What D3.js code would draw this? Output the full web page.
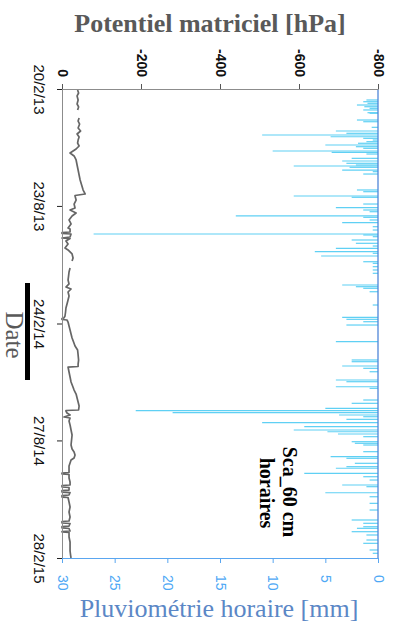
<!DOCTYPE html>
<html><head><meta charset="utf-8">
<script src="https://cdn.jsdelivr.net/npm/d3@7"></script>
<style>body{margin:0;background:#fff}svg{display:block}</style>
</head><body><svg id="c" width="402" height="631"></svg>
<script>
// ---- data ----
const startDate = new Date(2013, 1, 20);
const totalDays = 738;
const dateTickDays = [0, 184, 369, 553, 738];
const dateTickLabels = ["20/2/13", "23/8/13", "24/2/14", "27/8/14", "28/2/15"];
const hpaTicks = [0, -200, -400, -600, -800];
const rainTicks = [30, 25, 20, 15, 10, 5, 0];

// matric potential (days since 20/2/13, hPa); null = no data
const potDays = [1.6,6.3,11,17.3,23.6,28.3,33,33.5,45.6,50.4,55.1,61.4,66.1,70.8,75.5,80.3,85,89.7,94.4,97.6,100.7,105.4,111.7,119.6,127.5,135.3,143.2,151.1,159,165.2,167.6,168.4,174.7,181,187.3,190.4,195.1,199.8,206.1,212.4,218.7,220.3,225,225.8,227.4,228.2,232.9,234.5,235.3,239.2,243.9,250.2,253.3,259.6,265.9,270.7,271,281.7,288,294.3,300.6,306.8,311.6,314.7,319.4,325.7,332,338.3,344.6,350.9,357.2,360.3,361.1,362.7,363.5,366.7,373,379.2,385.5,391.8,398.1,404.4,410.7,418.6,426.5,432.8,436.7,437.5,445.3,453.2,461.1,467.4,473.7,480,486.2,492.5,498.8,505.1,505.9,506.7,509.8,513,516.1,517.7,522.4,528.7,536.6,544.5,552.3,560.2,566.5,571.2,575.9,580.6,583.8,588.5,593.2,599.5,603.5,604.3,605.8,606.6,612.1,618.4,623.1,623.9,626.3,627.1,631.1,631.8,634.2,635,638.9,639.7,642.1,642.8,649.9,657.8,665.6,673.5,679.8,680.6,682.9,683.7,687.7,688.5,690.8,691.6,695.5,696.3,697.1,697.9,705,712.8,720.7,727,733.3,738];
const potHpa = [-39.5,-42,-38.2,-40.8,-38.2,-42,-39.5,null,-43.3,-40.8,-44.6,-40.8,-47.1,-38.2,-43.3,-40.8,-39.5,-43.3,-35.7,-28,-20.4,-30.6,-35.7,-38.2,-40.8,-43.3,-45.9,-49.7,-53.5,-58.6,-33,-33,-35.7,-30.6,-33,-20.4,-35.7,-25.5,-17.8,-22.9,-15.3,-20.4,-20.4,0,0,-22.9,-20.4,0,-20.4,-10,-15.3,-7.6,-15.3,-25.5,-28,-25.5,null,-20.4,-17.8,-16.6,-15.3,-17.8,-10,-22.9,-15.3,-17.8,-15.3,-12.7,-10,-9,-7.6,-5,0,0,-12.7,-15.3,-17.8,-20.4,-22.9,-25.5,-29.3,-33,-39.5,-40.8,-42,-40.8,-40.8,-15.3,-17.8,-20.4,-22.9,-26.8,-30.6,-35.7,-38.2,-40.8,-43.3,-42,-10,-10,-12.7,-20.4,-5,-20.4,-17.8,-20.4,-22.9,-25.5,-24.2,-22.9,-25.5,-30.6,-33,-30.6,-22.9,-20.4,-17.8,-17.8,-17.8,0,0,-17.8,-17.8,-20.4,-20.4,0,0,-17.8,-17.8,0,0,-20.4,-17.8,0,0,-15.3,-17.8,-20.4,-17.8,-20.4,-17.8,0,0,-20.4,-17.8,0,0,-17.8,-20.4,0,0,-17.8,-17.8,-20.4,-20.4,-20.4,-21.7,-22.9];

// hourly rainfall (days since 20/2/13, mm)
const rainDays = [17.3,20,22.5,25.2,27.9,30.4,33,37.3,38.2,48.8,51.5,60.3,66.1,69.7,72.4,75.1,77.6,80.3,82.9,85.4,88.1,90.8,93.3,97.6,99.6,102.3,109.1,113.3,116.9,119.6,121.2,123.2,127.5,130.1,133.8,158.9,161.6,168.4,170.4,181,186.8,190.4,193.1,199.8,201.9,206.1,210.4,216.7,221.9,228.2,229.7,232.4,237.6,242.8,247.1,250.7,256,258.5,262.8,271.8,274.3,279.6,284.8,290,308.4,311.1,313.6,319,339.9,359.3,362.4,366.2,371.4,397.6,426.4,429.1,435.9,439.5,444.9,457.9,460.6,468.5,471,489.4,494.6,502.5,506.2,509.4,513,515.7,519.8,525.1,531.4,536.6,539.3,542.9,547.1,555,557.5,560.2,570.7,578.6,581.1,589,594.3,596.8,604.7,610.1,615.3,623.1,625.8,635.3,641.6,652,662.5,678.2,683.4,688.8,691.3,696.6,701.8,709.7,714.9,725.4,730.6];
const rainMm = [1.1,1.4,1.0,2.0,1.3,0.8,1.4,1.0,0.8,2.0,1.4,0.6,4.0,3.0,11.0,4.5,1.4,0.5,1.1,1.9,5.0,2.1,1.4,10.0,4.4,1.1,2.5,3.4,3.0,2.1,8.0,2.7,3.4,0.5,1.4,2.0,1.4,8.0,2.5,1.4,4.0,1.4,0.8,13.5,1.4,0.8,3.4,0.5,0.5,27.0,1.4,0.5,2.5,2.1,0.5,4.0,6.0,0.5,5.4,1.4,0.5,0.5,0.5,0.5,3.4,2.1,1.4,0.8,0.5,3.4,3.0,1.4,3.0,4.0,2.5,2.5,3.4,1.4,0.8,4.0,3.0,4.0,0.8,1.4,2.5,5.0,23.0,19.5,3.7,1.4,3.0,11.0,7.0,8.0,4.8,3.8,1.4,2.5,2.2,1.4,1.4,4.5,3.0,2.2,3.0,4.0,7.0,1.4,0.8,3.4,1.1,5.0,0.8,0.8,0.8,2.5,1.4,1.4,2.0,2.5,1.1,1.1,1.4,0.8,0.5];

// ---- chart ----
const toDate = d => new Date(startDate.getTime() + d * 864e5);
const svg = d3.select("#c");
const pTop = 89, pBottom = 558, pLeft = 62, pRight = 378;
const y = d3.scaleTime().domain([startDate, toDate(totalDays)]).range([pTop, pBottom]);
const xPot = d3.scaleLinear().domain([0, -800]).range([pLeft, pRight]);
const xRain = d3.scaleLinear().domain([30, 0]).range([pLeft, pRight]);

const serif = "'Liberation Serif','Times New Roman',serif";
const sans = "'Liberation Sans',Arial,sans-serif";

// rain bars
svg.append("g").selectAll("line").data(rainDays).join("line")
  .attr("x1", xRain(0)).attr("x2", (d, i) => xRain(rainMm[i]))
  .attr("y1", d => y(toDate(d))).attr("y2", d => y(toDate(d)))
  .attr("stroke", "#5fd0f4").attr("stroke-width", 1.2);

// right baseline of rain (0 mm)
svg.append("line").attr("x1", xRain(0)).attr("x2", xRain(0)).attr("y1", pTop).attr("y2", pBottom)
  .attr("stroke", "#4f86d8").attr("stroke-width", 1.3);

// potential line
const potData = potDays.map((d, i) => ({ d, v: potHpa[i] }));
svg.append("path").datum(potData)
  .attr("fill", "none").attr("stroke", "#666").attr("stroke-width", 1.7).attr("stroke-linejoin", "round")
  .attr("d", d3.line().defined(p => p.v !== null).x(p => xPot(p.v)).y(p => y(toDate(p.d))));

// top axis (hPa)
const gTop = svg.append("g").attr("transform", `translate(0,${pTop})`)
  .call(d3.axisTop(xPot).tickValues(hpaTicks).tickSize(5).tickFormat(d => String(d)));
gTop.select(".domain").attr("stroke", "#8c8c8c");
gTop.selectAll(".tick line").attr("stroke", "#555");
gTop.selectAll(".tick text")
  .attr("transform", "translate(0,-12) rotate(90)")
  .attr("x", 0).attr("y", 0).attr("dy", "0.35em")
  .attr("text-anchor", "end")
  .attr("font-family", sans).attr("font-size", 14).attr("font-weight", "bold").attr("fill", "#111");

// left axis (dates)
const gLeft = svg.append("g").attr("transform", `translate(${pLeft},0)`)
  .call(d3.axisLeft(y).tickValues(dateTickDays.map(toDate)).tickSize(5)
    .tickFormat((d, i) => dateTickLabels[i]));
gLeft.select(".domain").attr("stroke", "#8c8c8c");
gLeft.selectAll(".tick line").attr("stroke", "#222");
gLeft.selectAll(".tick text")
  .attr("transform", "translate(-23,0) rotate(90)")
  .attr("x", 0).attr("y", 0).attr("dy", "0.35em")
  .attr("text-anchor", "middle")
  .attr("font-family", sans).attr("font-size", 15).attr("fill", "#111");

// bottom axis (rain)
const gBot = svg.append("g").attr("transform", `translate(0,${pBottom})`)
  .call(d3.axisBottom(xRain).tickValues(rainTicks).tickSize(5).tickFormat(d => String(d)));
gBot.select(".domain").attr("stroke", "#5aa6f0");
gBot.selectAll(".tick line").attr("stroke", "#5aa6f0");
gBot.selectAll(".tick text")
  .attr("transform", "translate(0,17) rotate(90)")
  .attr("x", 0).attr("y", 0).attr("dy", "0.35em")
  .attr("text-anchor", "start")
  .attr("font-family", sans).attr("font-size", 14).attr("fill", "#4ea8f5");

// titles
svg.append("text").attr("x", 210).attr("y", 32).attr("text-anchor", "middle")
  .attr("font-family", serif).attr("font-weight", "bold").attr("font-size", 26).attr("fill", "#595959")
  .text("Potentiel matriciel [hPa]");
svg.append("text").attr("x", 219).attr("y", 617).attr("text-anchor", "middle")
  .attr("font-family", serif).attr("font-size", 26).attr("fill", "#5b87c6")
  .text("Pluviométrie horaire [mm]");
svg.append("text").attr("transform", "translate(6,335) rotate(90)").attr("text-anchor", "middle")
  .attr("font-family", serif).attr("font-size", 25).attr("fill", "#595959")
  .text("Date");
svg.append("rect").attr("x", 25).attr("y", 283).attr("width", 5).attr("height", 97).attr("fill", "#000");

// annotation
const ann = svg.append("g").attr("font-family", serif).attr("font-weight", "bold").attr("font-size", 20)
  .attr("fill", "#000").attr("text-anchor", "middle");
ann.append("text").attr("transform", "translate(283,492) rotate(90)").text("Sca_60 cm");
ann.append("text").attr("transform", "translate(260,493) rotate(90)").text("horaires");
</script></body></html>
